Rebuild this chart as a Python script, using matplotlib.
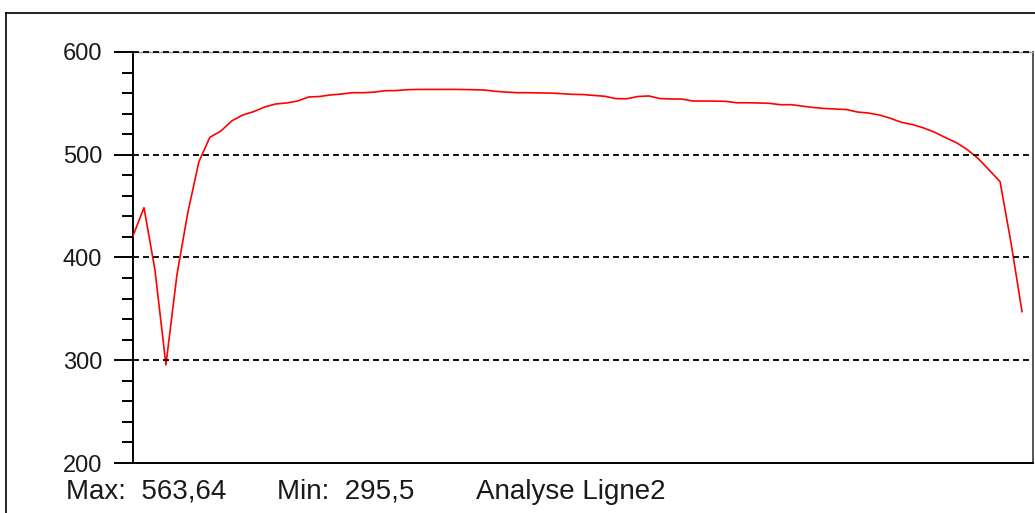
import matplotlib
matplotlib.use("Agg")
import matplotlib.pyplot as plt
from matplotlib.lines import Line2D
from matplotlib.ticker import MultipleLocator, NullFormatter

plt.rcParams['font.family'] = ['Liberation Sans', 'DejaVu Sans']
plt.rcParams['lines.scale_dashes'] = False

# profile values along the line (one per sample)
profile = [421, 448.5, 388, 295.5, 383, 444, 493, 517, 523, 533,
           538.7, 542, 546.5, 549.4, 550.4, 552.3, 556.2, 556.7, 558.2, 559.1,
           560.4, 560.4, 561, 562.3, 562.5, 563.3, 563.6, 563.6, 563.6, 563.64,
           563.5, 563.3, 563, 561.8, 561, 560.4, 560.4, 560.2, 560, 559.5,
           558.8, 558.6, 557.7, 556.9, 554.6, 554.5, 556.7, 557.2, 554.7, 554.3,
           554.2, 552.3, 552.3, 552.2, 552, 550.6, 550.6, 550.4, 550, 548.7,
           548.7, 547.3, 546, 545, 544.5, 544, 541.6, 540.6, 538.7, 535.5,
           531.6, 529.4, 526.2, 522.1, 516.8, 511.9, 505.1, 496.4, 485.2, 473.8,
           414.1, 347.3]
samples = list(range(len(profile)))
y_min, y_max = 200, 600
grid_levels = [300, 400, 500, 600]
title = "Analyse Ligne2"
max_label = "Max:  563,64"
min_label = "Min:  295,5"

W, H = 1035, 513
fig = plt.figure(figsize=(W / 100, H / 100), dpi=100)

# outer window frame (top and left visible)
fig.add_artist(Line2D([6 / W, 1], [1 - 13 / H, 1 - 13 / H], transform=fig.transFigure, color='black', lw=1.2))
fig.add_artist(Line2D([6 / W, 6 / W], [0, 1 - 13 / H], transform=fig.transFigure, color='black', lw=1.2))

ax = fig.add_axes([133 / W, 1 - 463 / H, 900 / W, 411 / H])
ax.set_xlim(0, 82)
ax.set_ylim(y_min, y_max)

for g in grid_levels:
    ax.axhline(g, color='#111111', lw=1.4, ls=(0, (4.3, 2.9)), zorder=4, clip_on=False)

ax.plot(samples, profile, color='#ff0000', lw=1.2, zorder=3)

ax.yaxis.set_major_locator(MultipleLocator(100))
ax.yaxis.set_minor_locator(MultipleLocator(20))
ax.yaxis.set_minor_formatter(NullFormatter())
ax.set_xticks([])
ax.tick_params(axis='y', which='major', direction='out', length=13.7, width=1.4,
               pad=8.6, labelsize=17, labelcolor='#1a1a1a')
ax.tick_params(axis='y', which='minor', direction='out', length=7.9, width=1.4)

for side in ['left', 'bottom']:
    ax.spines[side].set_color('black')
    ax.spines[side].set_linewidth(1.4)
ax.spines['right'].set_color('#555555')
ax.spines['right'].set_linewidth(1.4)
ax.spines['top'].set_color('#999999')
ax.spines['top'].set_linewidth(1.0)

ty = 1 - 492 / H
fig.text(66 / W, ty, max_label, ha='left', va='center', fontsize=20, color='#1a1a1a')
fig.text(277 / W, ty, min_label, ha='left', va='center', fontsize=20, color='#1a1a1a')
fig.text(476 / W, ty, title, ha='left', va='center', fontsize=20, color='#1a1a1a')

fig.savefig("out.png", dpi=100)
